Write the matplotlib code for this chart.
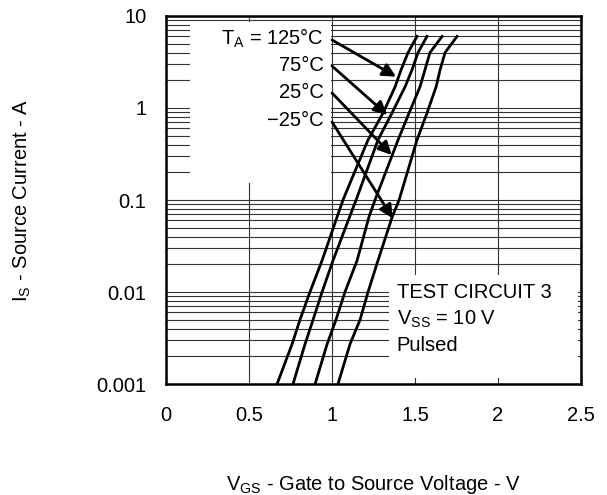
import matplotlib
matplotlib.use("Agg")
import matplotlib.pyplot as plt
import matplotlib.ticker as mticker
from matplotlib.patches import Rectangle

plt.rcParams['font.family'] = ['Liberation Sans', 'DejaVu Sans']
plt.rcParams['mathtext.fontset'] = 'custom'
plt.rcParams['mathtext.rm'] = 'Liberation Sans'
plt.rcParams['mathtext.it'] = 'Liberation Sans'

# source current levels (A), shared by all curves
current = [0.001, 0.0027, 0.005, 0.01, 0.022, 0.065, 0.1, 0.45, 0.88, 1.7, 2.6, 4.0, 6.0]

# gate-source voltage (V) for each ambient temperature
vgs_125 = [0.669, 0.759, 0.807, 0.867, 0.940, 1.030, 1.066, 1.217, 1.307, 1.380, 1.416, 1.458, 1.512]
vgs_75 = [0.765, 0.837, 0.886, 0.940, 1.006, 1.105, 1.145, 1.277, 1.361, 1.440, 1.482, 1.518, 1.572]
vgs_25 = [0.898, 0.970, 1.024, 1.078, 1.151, 1.222, 1.259, 1.398, 1.464, 1.530, 1.560, 1.590, 1.663]
vgs_m25 = [1.036, 1.108, 1.169, 1.217, 1.277, 1.362, 1.404, 1.512, 1.572, 1.627, 1.651, 1.681, 1.753]

labels = ['T$_{\\mathregular{A}}$ = 125°C', '75°C', '25°C', '\u221225°C']
label_y = [5.77, 2.93, 1.47, 0.723]
arrow_start_y = [5.49, 2.86, 1.456, 0.705]
arrow_tip = [(1.386, 2.19), (1.333, 0.84), (1.360, 0.308), (1.366, 0.0632)]

y_ticks = [0.001, 0.01, 0.1, 1, 10]
y_tick_labels = ['0.001', '0.01', '0.1', '1', '10']
x_ticks = [0, 0.5, 1, 1.5, 2, 2.5]
x_tick_labels = ['0', '0.5', '1', '1.5', '2', '2.5']

fig = plt.figure(figsize=(6.07, 4.95), dpi=100)
ax = fig.add_axes([0.2735, 0.2242, 0.6837, 0.7435])
ax.set_yscale('log')
ax.set_xlim(0, 2.5)
ax.set_ylim(0.001, 10)
ax.set_axisbelow(True)

ax.set_xticks(x_ticks)
ax.set_xticklabels(x_tick_labels)
ax.set_yticks(y_ticks)
ax.set_yticklabels(y_tick_labels)
ax.yaxis.set_minor_locator(mticker.LogLocator(base=10, subs=range(2, 10)))
ax.yaxis.set_minor_formatter(mticker.NullFormatter())
ax.tick_params(which='both', length=0, labelsize=14.5)
ax.tick_params(axis='y', pad=14)
ax.tick_params(axis='x', pad=16)
ax.grid(True, which='both', color='0.2', lw=0.8)

for s in ax.spines.values():
    s.set_linewidth(1.8)

# white boxes behind the notes
ax.add_patch(Rectangle((0.145, 0.153), 0.849, 8.6 - 0.153, facecolor='white',
                       edgecolor='none', zorder=1))
ax.add_patch(Rectangle((1.343, 0.00116), 1.139, 0.0153 - 0.00116, facecolor='white',
                       edgecolor='none', zorder=1))

for v in [vgs_125, vgs_75, vgs_25, vgs_m25]:
    ax.plot(v, current, color='black', lw=2.0, zorder=3)

for lab, ly, sy, tip in zip(labels, label_y, arrow_start_y, arrow_tip):
    ax.text(0.952, ly, lab, ha='right', va='center', fontsize=14.5, zorder=4)
    ax.annotate('', xy=tip, xytext=(1.0, sy),
                arrowprops=dict(arrowstyle='-|>', color='black', lw=2.0,
                                mutation_scale=20, shrinkA=0, shrinkB=0),
                zorder=4)

ax.text(1.389, 0.00988, 'TEST CIRCUIT 3', ha='left', va='center', fontsize=14.5, zorder=4)
ax.text(1.389, 0.00508, 'V$_{\\mathregular{SS}}$ = 10 V', ha='left', va='center', fontsize=14.5, zorder=4)
ax.text(1.389, 0.00265, 'Pulsed', ha='left', va='center', fontsize=14.5, zorder=4)

ax.set_xlabel('V$_{\\mathregular{GS}}$ - Gate to Source Voltage - V', fontsize=14.5)
ax.set_ylabel('I$_{\\mathregular{S}}$ - Source Current - A', fontsize=14.5)
ax.xaxis.set_label_coords(0.5, -0.242)
ax.yaxis.set_label_coords(-0.32, 0.5)

fig.savefig('out.png', dpi=100)
